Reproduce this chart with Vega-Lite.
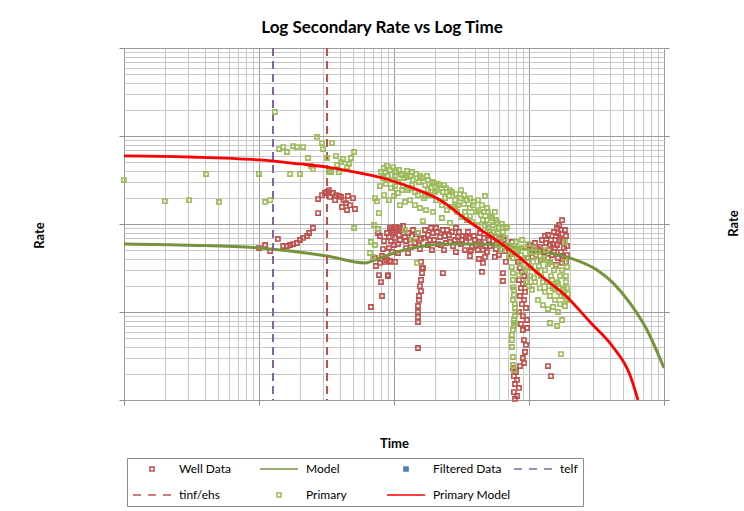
{
  "$schema": "https://vega.github.io/schema/vega-lite/v6.json",
  "width": 540,
  "height": 352,
  "autosize": {"type": "none"},
  "padding": {"left": 124, "top": 48, "right": 80, "bottom": 111},
  "background": "#ffffff",
  "title": {
    "text": "Log Secondary Rate vs Log Time",
    "anchor": "middle",
    "dx": -12,
    "font": "Lato",
    "fontSize": 17,
    "fontWeight": "bold",
    "color": "#000000",
    "offset": 10
  },
  "config": {
    "view": {"stroke": null},
    "axis": {"titleFont": "Lato", "titleColor": "#000000", "labelFont": "Lato"},
    "legend": {
      "labelFont": "Lato",
      "title": null,
      "orient": "none",
      "legendX": 3,
      "legendY": 410,
      "direction": "horizontal",
      "columns": 4,
      "gridAlign": "all",
      "symbolSize": 100,
      "symbolOffset": 14,
      "symbolStrokeWidth": 1.5,
      "labelFontSize": 12,
      "labelColor": "#000000",
      "labelOffset": 21,
      "labelLimit": 200,
      "columnPadding": 0,
      "rowPadding": 14,
      "padding": 5,
      "strokeColor": "#8c8c8c",
      "fillColor": "#ffffff"
    }
  },
  "datasets": {
    "wells": [
      {"t":10.0,"q":53.3},{"t":11.1,"q":57.7},{"t":12.1,"q":49.3},{"t":13.8,"q":67.6},{"t":15.1,"q":56.2},{"t":16.1,"q":56.2},{"t":17.0,"q":57.7},{"t":17.9,"q":59.2},{"t":19.1,"q":60.8},{"t":20.1,"q":65.8},{"t":21.2,"q":69.4},{"t":22.7,"q":73.1},{"t":23.5,"q":79.0},{"t":25.1,"q":90.1},
      {"t":27.4,"q":192},{"t":29.3,"q":213},{"t":30.8,"q":225},{"t":31.9,"q":231},{"t":33.6,"q":203},{"t":35.3,"q":225},{"t":37.2,"q":213},{"t":39.1,"q":208},{"t":40.5,"q":203},{"t":42.6,"q":187},{"t":44.1,"q":173},{"t":45.6,"q":208},{"t":47.2,"q":164},{"t":49.7,"q":197},{"t":51.4,"q":148},{"t":27.4,"q":133},{"t":44.9,"q":144},{"t":41.2,"q":156},{"t":36.6,"q":187},{"t":33.0,"q":243},
      {"t":67.5,"q":11.4},{"t":81.5,"q":15.2},{"t":80.1,"q":21.9},{"t":77.4,"q":26.3},{"t":90.2,"q":25.6},{"t":85.7,"q":37.1},{"t":73.5,"q":33.3},{"t":72.3,"q":41.1},{"t":81.5,"q":43.3},{"t":82.9,"q":51.9},{"t":91.7,"q":53.3},{"t":84.3,"q":64.1},{"t":95.0,"q":64.1},{"t":78.7,"q":73.1},{"t":76.1,"q":79.0},{"t":96.6,"q":85.5},{"t":101.7,"q":92.5},{"t":88.7,"q":39.0},{"t":93.4,"q":38.0},{"t":78.7,"q":36.1},{"t":90.2,"q":26.3},
      {"t":88.7,"q":79.0},{"t":93.4,"q":90.1},{"t":98.3,"q":81.1},{"t":103.5,"q":87.7},{"t":108.9,"q":75.0},{"t":114.6,"q":85.5},{"t":120.6,"q":71.2},{"t":127.0,"q":79.0},{"t":110.8,"q":65.8},{"t":101.7,"q":69.4},{"t":131.4,"q":65.8},{"t":116.6,"q":95.0},{"t":107.1,"q":59.2},{"t":96.6,"q":48.0},{"t":122.7,"q":53.3},{"t":107.1,"q":46.8},{"t":127.0,"q":46.8},{"t":101.7,"q":37.1},{"t":93.4,"q":37.1},
      {"t":110.8,"q":90.1},{"t":122.7,"q":64.1},{"t":91.7,"q":71.2},{"t":100,"q":57.7},
      {"t":169.7,"q":85.5},{"t":178.5,"q":75.0},{"t":187.9,"q":90.1},{"t":197.8,"q":65.8},{"t":208.1,"q":81.1},{"t":219.1,"q":71.2},{"t":230.5,"q":85.5},{"t":242.7,"q":60.8},{"t":255.4,"q":75.0},{"t":268.8,"q":81.1},{"t":282.9,"q":65.8},{"t":297.8,"q":71.2},{"t":178.5,"q":57.7},{"t":194.4,"q":79.0},{"t":211.7,"q":59.2},{"t":238.6,"q":73.1},{"t":259.8,"q":62.4},{"t":287.8,"q":90.1},{"t":313.4,"q":59.2},{"t":166.8,"q":69.4},{"t":135.9,"q":73.1},{"t":143.1,"q":60.8},{"t":150.5,"q":79.0},{"t":158.5,"q":67.6},{"t":133.6,"q":54.7},{"t":155.8,"q":51.9},
      {"t":138.2,"q":85.5},{"t":145.5,"q":69.4},{"t":153.2,"q":57.7},{"t":184.8,"q":65.8},{"t":204.6,"q":90.1},{"t":222.8,"q":57.7},{"t":246.9,"q":85.5},{"t":273.4,"q":56.2},{"t":302.9,"q":81.1},{"t":318.8,"q":65.8},{"t":353.1,"q":81.1},{"t":391.1,"q":73.1},{"t":426,"q":62.4},{"t":480,"q":56.2},{"t":531,"q":73.1},{"t":578.5,"q":60.8},{"t":652,"q":65.8},{"t":709.9,"q":53.3},{"t":747,"q":62.4},{"t":505,"q":65.8},{"t":456,"q":50.6},{"t":371.6,"q":50.6},{"t":341.4,"q":73.1},{"t":287.8,"q":48.0},{"t":234.5,"q":50.6},{"t":191.1,"q":50.6},
      {"t":324.3,"q":73.1},{"t":341.4,"q":62.4},{"t":359.2,"q":69.4},{"t":378.0,"q":54.7},{"t":397.8,"q":65.8},{"t":418.7,"q":50.6},{"t":440.7,"q":59.2},{"t":463.8,"q":69.4},{"t":488.1,"q":48.0},{"t":513.7,"q":56.2},{"t":540.4,"q":64.1},{"t":568.7,"q":51.9},{"t":598.4,"q":44.4},{"t":630.4,"q":59.2},{"t":663.2,"q":49.3},{"t":697.9,"q":56.2},{"t":734.5,"q":45.6},{"t":365.4,"q":43.3},{"t":433.2,"q":79.0},{"t":513.7,"q":75.0},{"t":609,"q":69.4},{"t":404.6,"q":57.7},{"t":559,"q":42.2},{"t":471.9,"q":42.2},{"t":335.5,"q":50.6},
      {"t":161.2,"q":31.6},{"t":161.2,"q":27.7},{"t":158.5,"q":23.1},{"t":155.8,"q":19.7},{"t":158.5,"q":17.3},{"t":153.2,"q":15.2},{"t":153.2,"q":13.7},{"t":150.5,"q":11.7},{"t":150.5,"q":10.0},{"t":150.5,"q":8.77},{"t":150.5,"q":7.70},{"t":150.5,"q":3.90},{"t":158.5,"q":37.1},{"t":230.5,"q":27.7},{"t":164,"q":31.6},{"t":448.2,"q":28.5},{"t":456,"q":36.1},{"t":641.2,"q":27.7},{"t":641.2,"q":22.5},{"t":426,"q":40.0},{"t":674.5,"q":37.1},
      {"t":829,"q":37.1},{"t":857.5,"q":31.6},{"t":887,"q":28.5},{"t":918,"q":25.6},{"t":843,"q":23.1},{"t":902,"q":20.8},{"t":872,"q":18.7},{"t":934,"q":16.9},{"t":857.5,"q":15.2},{"t":918,"q":13.7},{"t":887,"q":12.3},{"t":950,"q":11.1},{"t":843,"q":10.0},{"t":902,"q":9.0},{"t":966,"q":8.11},{"t":872,"q":7.31},{"t":902,"q":6.24},{"t":966,"q":6.58},{"t":918,"q":4.80},{"t":918,"q":2.63},{"t":950,"q":4.22},{"t":934,"q":3.51},{"t":902,"q":3.0},{"t":760,"q":2.31},{"t":801,"q":2.08},{"t":773,"q":1.87},{"t":815,"q":1.69},{"t":787,"q":1.52},{"t":843,"q":1.37},{"t":773,"q":1.23},{"t":815,"q":1.11},{"t":787,"q":1.03},{"t":857.5,"q":2.43},
      {"t":1382,"q":75.0},{"t":1455,"q":65.8},{"t":1532,"q":81.1},{"t":1612,"q":57.7},{"t":1697,"q":69.4},{"t":1786,"q":62.4},{"t":1879,"q":73.1},{"t":1406,"q":50.6},{"t":1480,"q":44.4},{"t":1558,"q":53.3},{"t":1640,"q":41.1},{"t":1726,"q":48.0},{"t":1816,"q":53.3},{"t":1911,"q":44.4},{"t":1430,"q":37.1},{"t":1585,"q":34.2},{"t":1756,"q":36.1},{"t":1847,"q":85.5},{"t":1669,"q":97.4},{"t":1756,"q":110.5},{"t":1612,"q":90.1},{"t":1506,"q":59.2},{"t":1336,"q":60.8},{"t":1291,"q":48.0},{"t":1206,"q":54.7},{"t":1127,"q":44.4},{"t":1071,"q":50.6},{"t":1017,"q":57.7},{"t":983,"q":41.1},{"t":1226,"q":39.0},{"t":1382,"q":2.43},{"t":1455,"q":1.87},
      {"t":1313,"q":73.1},{"t":1430,"q":57.7},{"t":1532,"q":48.0},{"t":1669,"q":65.8},{"t":1786,"q":43.3},{"t":1911,"q":56.2},{"t":1879,"q":37.1},{"t":1382,"q":41.1},{"t":1248,"q":65.8},{"t":1108,"q":60.8},{"t":1052,"q":42.2},{"t":1166,"q":51.9},{"t":1585,"q":73.1},{"t":1726,"q":85.5},{"t":1640,"q":79.0}
    ],
    "primary": [
      {"t":1.0,"q":316},{"t":2.01,"q":182},{"t":3.03,"q":187},{"t":4.05,"q":370},{"t":5.05,"q":178},{"t":10.0,"q":370},{"t":11.1,"q":178},{"t":12.1,"q":187},{"t":13.1,"q":1875},{"t":14.1,"q":711},{"t":15.1,"q":749},{"t":16.1,"q":658},{"t":17.0,"q":370},{"t":17.9,"q":769},{"t":19.1,"q":749},{"t":20.1,"q":370},{"t":21.2,"q":749},{"t":23.1,"q":562},{"t":24.2,"q":458},{"t":25.1,"q":422},{"t":26.9,"q":976},{"t":29.3,"q":832},{"t":29.8,"q":711},{"t":31.9,"q":562},{"t":33.0,"q":390},{"t":34.2,"q":390},{"t":34.7,"q":832},{"t":37.2,"q":590},{"t":37.9,"q":468},{"t":39.1,"q":390},{"t":40.5,"q":506},{"t":41.9,"q":548},{"t":44.9,"q":444},{"t":46.4,"q":481},{"t":48.0,"q":562},{"t":50.6,"q":658},{"t":50.6,"q":90.1},{"t":72.3,"q":197},{"t":74.8,"q":182},{"t":77.4,"q":133},{"t":71.1,"q":97.4},{"t":76.1,"q":87.7},{"t":67.5,"q":62.4},{"t":72.3,"q":57.7},{"t":66.4,"q":46.8},{"t":69.9,"q":42.2},
      {"t":80.1,"q":390},{"t":84.3,"q":433},{"t":88.7,"q":458},{"t":93.4,"q":411},{"t":98.3,"q":444},{"t":103.5,"q":390},{"t":82.9,"q":333},{"t":90.2,"q":351},{"t":96.6,"q":316},{"t":87.2,"q":285},{"t":95.0,"q":256},{"t":101.7,"q":351},{"t":107.1,"q":300},{"t":112.7,"q":370},{"t":118.6,"q":333},{"t":124.9,"q":400},{"t":131.4,"q":351},{"t":138.2,"q":316},{"t":145.5,"q":370},{"t":116.6,"q":270},{"t":127.0,"q":243},{"t":135.9,"q":277},{"t":143.1,"q":231},{"t":153.2,"q":300},{"t":161.2,"q":333},{"t":169.7,"q":277},{"t":178.5,"q":316},{"t":187.9,"q":256},{"t":197.8,"q":292},{"t":208.1,"q":243},
      {"t":150.5,"q":213},{"t":166.8,"q":197},{"t":184.8,"q":213},{"t":204.6,"q":187},{"t":219.1,"q":277},{"t":230.5,"q":231},{"t":242.7,"q":256},{"t":255.4,"q":208},{"t":268.8,"q":231},{"t":282.9,"q":187},{"t":226.6,"q":164},{"t":246.9,"q":144},{"t":268.8,"q":156},{"t":292.8,"q":137},{"t":313.4,"q":197},{"t":329.8,"q":168},{"t":347.1,"q":187},{"t":365.3,"q":152},{"t":384.5,"q":164},{"t":404.6,"q":137},{"t":318.8,"q":120},{"t":347.1,"q":111},{"t":378.0,"q":105},{"t":418.7,"q":144},{"t":440.7,"q":126},{"t":463.8,"q":137},{"t":488.1,"q":111},{"t":513.7,"q":123},{"t":540.4,"q":97.4},{"t":568.7,"q":111},{"t":598.4,"q":90.1},
      {"t":471.9,"q":95.0},{"t":513.7,"q":81.1},{"t":559,"q":73.1},{"t":609,"q":65.8},{"t":641.2,"q":81.1},{"t":674.5,"q":90.1},{"t":471.9,"q":208},{"t":488.1,"q":152},{"t":559,"q":137},{"t":155.8,"q":152},{"t":172.6,"q":144},{"t":194.4,"q":137},{"t":164,"q":108},{"t":107.1,"q":225},{"t":120.6,"q":178},{"t":226.6,"q":117},{"t":259.8,"q":103},{"t":686,"q":92.5},{"t":114.6,"q":360},{"t":124.9,"q":342},{"t":78.7,"q":270},{"t":84.3,"q":213},{"t":91.7,"q":187},{"t":100,"q":208},{"t":110.8,"q":164},{"t":131.4,"q":187},{"t":143.1,"q":164},{"t":150.5,"q":79.0},{"t":148.0,"q":36.1},{"t":135.9,"q":65.8},{"t":120.6,"q":85.5},
      {"t":85.7,"q":390},{"t":108.9,"q":411},{"t":135.9,"q":390},{"t":155.8,"q":351},{"t":175.6,"q":351},{"t":191.1,"q":300},{"t":211.7,"q":285},{"t":234.5,"q":277},{"t":259.8,"q":243},{"t":287.8,"q":219},{"t":313.4,"q":243},{"t":329.8,"q":213},{"t":365.3,"q":197},{"t":391.1,"q":178},{"t":418.7,"q":187},{"t":448.2,"q":164},{"t":496.5,"q":137},{"t":531,"q":117},{"t":578.5,"q":105},{"t":630.4,"q":100},{"t":297.8,"q":164},{"t":335.5,"q":137},{"t":365.3,"q":123},{"t":418.7,"q":97.4},{"t":456,"q":111},{"t":496.5,"q":90.1},{"t":540.4,"q":81.1},{"t":589,"q":79.0},{"t":178.5,"q":243},{"t":201.2,"q":231},{"t":101.7,"q":270},{"t":114.6,"q":243},{"t":131.4,"q":256},{"t":169.7,"q":208},{"t":238.6,"q":197},{"t":282.9,"q":160},
      {"t":663.2,"q":69.4},{"t":697.9,"q":57.7},{"t":734.5,"q":50.6},{"t":773,"q":56.2},{"t":815,"q":48.0},{"t":709.9,"q":43.3},{"t":760,"q":41.1},{"t":801,"q":62.4},{"t":857.5,"q":53.3},{"t":630.4,"q":50.6},{"t":589,"q":57.7},
      {"t":747,"q":32.4},{"t":760,"q":27.7},{"t":760,"q":23.1},{"t":760,"q":19.2},{"t":773,"q":17.8},{"t":773,"q":15.6},{"t":760,"q":13.7},{"t":787,"q":12.3},{"t":787,"q":11.1},{"t":801,"q":10.0},{"t":787,"q":9.0},{"t":773,"q":8.11},{"t":787,"q":7.50},{"t":760,"q":6.24},{"t":747,"q":4.80},{"t":747,"q":4.00},{"t":760,"q":3.08},{"t":760,"q":2.50},{"t":773,"q":2.19},{"t":773,"q":6.93},{"t":747,"q":5.48},
      {"t":829,"q":50.6},{"t":872,"q":44.4},{"t":918,"q":53.3},{"t":966,"q":41.1},{"t":1017,"q":48.0},{"t":1071,"q":37.1},{"t":1127,"q":43.3},{"t":1186,"q":33.3},{"t":1248,"q":39.0},{"t":1313,"q":29.9},{"t":1382,"q":35.1},{"t":1455,"q":25.6},{"t":1532,"q":29.9},{"t":1612,"q":21.9},{"t":1697,"q":25.6},{"t":1786,"q":18.7},{"t":1879,"q":21.9},{"t":1944,"q":16.0},
      {"t":857.5,"q":35.1},{"t":934,"q":29.9},{"t":1017,"q":25.6},{"t":1108,"q":21.9},{"t":1206,"q":18.7},{"t":1313,"q":16.9},{"t":1430,"q":15.2},{"t":1558,"q":13.7},{"t":1697,"q":12.3},{"t":1847,"q":11.7},{"t":1944,"q":13.7},{"t":887,"q":65.8},{"t":983,"q":59.2},{"t":1089,"q":53.3},{"t":1166,"q":48.0},{"t":1291,"q":41.1},{"t":1430,"q":37.1},{"t":1585,"q":33.3},{"t":1756,"q":29.9},{"t":1879,"q":25.6},
      {"t":843,"q":26.3},{"t":950,"q":21.9},{"t":1052,"q":17.8},{"t":1226,"q":25.6},{"t":1359,"q":21.9},{"t":1506,"q":18.7},{"t":1669,"q":16.9},{"t":1816,"q":15.2},{"t":1166,"q":13.7},{"t":1269,"q":12.0},{"t":1382,"q":10.8},{"t":1506,"q":11.4},{"t":1640,"q":10.0},{"t":1756,"q":8.11},{"t":1612,"q":6.93},{"t":1430,"q":7.50},{"t":1726,"q":3.32},{"t":966,"q":31.6},{"t":1336,"q":50.6},
      {"t":902,"q":39.0},{"t":1034,"q":31.6},{"t":1146,"q":28.5},{"t":1269,"q":21.9},{"t":1406,"q":19.7},{"t":1558,"q":17.8},{"t":1726,"q":15.2},{"t":1879,"q":13.7},{"t":1480,"q":23.1},{"t":1640,"q":20.8},{"t":1816,"q":17.8},{"t":1089,"q":24.3},{"t":1000,"q":19.7},{"t":1911,"q":18.7},{"t":1847,"q":37.1},{"t":1911,"q":32.4},{"t":1847,"q":62.4}
    ],
    "model": [
      {"t":1,"q":59.3},{"t":3.08,"q":57.4},{"t":10.2,"q":53.3},{"t":31.9,"q":43.3},{"t":61,"q":36.1},{"t":78.7,"q":41.1},{"t":100,"q":46.8},{"t":138,"q":53.3},{"t":247,"q":59.3},{"t":433,"q":59.3},{"t":760,"q":54.8},{"t":1016,"q":50.7},{"t":1910,"q":42.2},{"t":3190,"q":30.0},{"t":4190,"q":21.4},{"t":5598,"q":12.6},{"t":7482,"q":6.24},{"t":10000,"q":2.31}
    ],
    "primaryModel": [
      {"t":1,"q":593},{"t":3.08,"q":577},{"t":10.2,"q":534},{"t":20.1,"q":481},{"t":31.9,"q":444},{"t":47.2,"q":400},{"t":82.9,"q":333},{"t":131.4,"q":263},{"t":219,"q":187},{"t":347,"q":111},{"t":514,"q":73.1},{"t":760,"q":48.0},{"t":1206,"q":26.3},{"t":1911,"q":14.8},{"t":2831,"q":7.70},{"t":4190,"q":4.0},{"t":5598,"q":1.92},{"t":6415,"q":1.0}
    ],
    "telf": [{"t":12.7}],
    "tinf": [{"t":31.9}]
  },
  "resolve": {"axis": {"y": "independent"}},
  "layer": [
    {
      "data": {"name": "wells"},
      "mark": {"type": "point", "filled": false, "strokeWidth": 1.6, "size": 100, "opacity": 1},
      "encoding": {
        "x": {
          "field": "t", "type": "quantitative",
          "scale": {"type": "log", "domain": [1, 10000], "nice": false},
          "axis": {
            "orient": "bottom",
            "values": [1,2,3,4,5,6,7,8,9,10,20,30,40,50,60,70,80,90,100,200,300,400,500,600,700,800,900,1000,2000,3000,4000,5000,6000,7000,8000,9000,10000],
            "labels": false,
            "domain": false,
            "grid": true,
            "gridColor": {"condition": {"test": "indexof([1,10,100,1000,10000], datum.value) >= 0", "value": "#9a9a9a"}, "value": "#c8c8c8"},
            "gridWidth": 1,
            "ticks": true,
            "tickSize": 5,
            "tickColor": "#8c8c8c",
            "tickOpacity": {"condition": {"test": "indexof([1,10,100,1000,10000], datum.value) >= 0", "value": 1}, "value": 0},
            "title": "Time",
            "titleFontSize": 13,
            "titleFontWeight": "bold",
            "titleBaseline": "middle",
            "titleY": 43
          }
        },
        "y": {
          "field": "q", "type": "quantitative",
          "scale": {"type": "log", "domain": [1, 10000], "nice": false},
          "axis": {
            "orient": "left",
            "values": [1,2,3,4,5,6,7,8,9,10,20,30,40,50,60,70,80,90,100,200,300,400,500,600,700,800,900,1000,2000,3000,4000,5000,6000,7000,8000,9000,10000],
            "labels": false,
            "domain": false,
            "grid": true,
            "gridColor": {"condition": {"test": "indexof([1,10,100,1000,10000], datum.value) >= 0", "value": "#9a9a9a"}, "value": "#c8c8c8"},
            "gridWidth": 1,
            "ticks": true,
            "tickSize": 5,
            "tickColor": "#8c8c8c",
            "tickOpacity": {"condition": {"test": "indexof([1,10,100,1000,10000], datum.value) >= 0", "value": 1}, "value": 0},
            "title": "Rate",
            "titleFontSize": 13,
            "titleFontWeight": "bold",
            "titleAngle": -90,
            "titleBaseline": "middle",
            "titleX": -85,
            "titleY": 187
          }
        },
        "color": {
          "datum": "Well Data", "type": "nominal", "title": null,
          "scale": {
            "domain": ["Well Data", "Model", "Filtered Data", "telf", "tinf/ehs", "Primary", "Primary Model"],
            "range": ["#c0504d", "#77933c", "#4f81bd", "#8064a2", "#c0504d", "#9bbb59", "#ff0000"]
          },
          "legend": {
            "title": null,
            "encode": {
              "symbols": {
                "update": {
                  "strokeWidth": {"signal": "indexof(['Model','Primary Model'], datum.value) >= 0 ? 3 : (indexof(['telf','tinf/ehs'], datum.value) >= 0 ? 2 : 1.5)"},
                  "opacity": {"value": 1}
                }
              }
            }
          }
        },
        "shape": {
          "datum": "Well Data", "type": "nominal", "title": null,
          "scale": {
            "domain": ["Well Data", "Model", "Filtered Data", "telf", "tinf/ehs", "Primary", "Primary Model"],
            "range": [
              "M-0.42,-0.42H0.42V0.42H-0.42Z",
              "M-3.8,0H3.8",
              "M-0.42,-0.42H0.42V0.42H-0.42ZM-0.25,-0.25H0.25V0.25H-0.25ZM-0.1,-0.1H0.1V0.1H-0.1Z",
              "M-3.8,0H-2.2M-0.8,0H0.8M2.2,0H3.8",
              "M-3.8,0H-2.2M-0.8,0H0.8M2.2,0H3.8",
              "M-0.42,-0.42H0.42V0.42H-0.42Z",
              "M-3.8,0H3.8"
            ]
          },
          "legend": {"title": null}
        }
      }
    },
    {
      "data": {"name": "model"},
      "mark": {"type": "line", "strokeWidth": 3, "interpolate": "monotone", "clip": true},
      "encoding": {
        "x": {"field": "t", "type": "quantitative", "scale": {"type": "log", "domain": [1, 10000], "nice": false}},
        "y": {"field": "q", "type": "quantitative", "scale": {"type": "log", "domain": [1, 10000], "nice": false}, "axis": null},
        "color": {"datum": "Model", "type": "nominal", "title": null}
      }
    },
    {
      "data": {"name": "telf"},
      "mark": {"type": "rule", "strokeWidth": 2, "strokeDash": [8, 5]},
      "encoding": {
        "x": {"field": "t", "type": "quantitative", "scale": {"type": "log", "domain": [1, 10000], "nice": false}},
        "color": {"datum": "telf", "type": "nominal", "title": null}
      }
    },
    {
      "data": {"name": "tinf"},
      "mark": {"type": "rule", "strokeWidth": 2, "strokeDash": [8, 5]},
      "encoding": {
        "x": {"field": "t", "type": "quantitative", "scale": {"type": "log", "domain": [1, 10000], "nice": false}},
        "color": {"datum": "tinf/ehs", "type": "nominal", "title": null}
      }
    },
    {
      "data": {"name": "primary"},
      "mark": {"type": "point", "filled": false, "strokeWidth": 1.6, "size": 100, "opacity": 1},
      "encoding": {
        "x": {"field": "t", "type": "quantitative", "scale": {"type": "log", "domain": [1, 10000], "nice": false}},
        "y": {"field": "q", "type": "quantitative", "scale": {"type": "log", "domain": [1, 10000], "nice": false}, "axis": null},
        "color": {"datum": "Primary", "type": "nominal", "title": null},
        "shape": {"datum": "Primary", "type": "nominal", "title": null}
      }
    },
    {
      "data": {"name": "primaryModel"},
      "mark": {"type": "line", "strokeWidth": 2.8, "interpolate": "monotone", "clip": true},
      "encoding": {
        "x": {"field": "t", "type": "quantitative", "scale": {"type": "log", "domain": [1, 10000], "nice": false}},
        "y": {
          "field": "q", "type": "quantitative",
          "scale": {"type": "log", "domain": [1, 10000], "nice": false},
          "axis": {
            "orient": "right",
            "values": [1, 10, 100, 1000, 10000],
            "labels": false,
            "domain": false,
            "grid": false,
            "ticks": true,
            "tickSize": 5,
            "tickColor": "#8c8c8c",
            "title": "Rate",
            "titleFontSize": 13,
            "titleFontWeight": "bold",
            "titleAngle": -90,
            "titleBaseline": "middle",
            "titleX": 69,
            "titleY": 175
          }
        },
        "color": {"datum": "Primary Model", "type": "nominal", "title": null}
      }
    }
  ]
}
